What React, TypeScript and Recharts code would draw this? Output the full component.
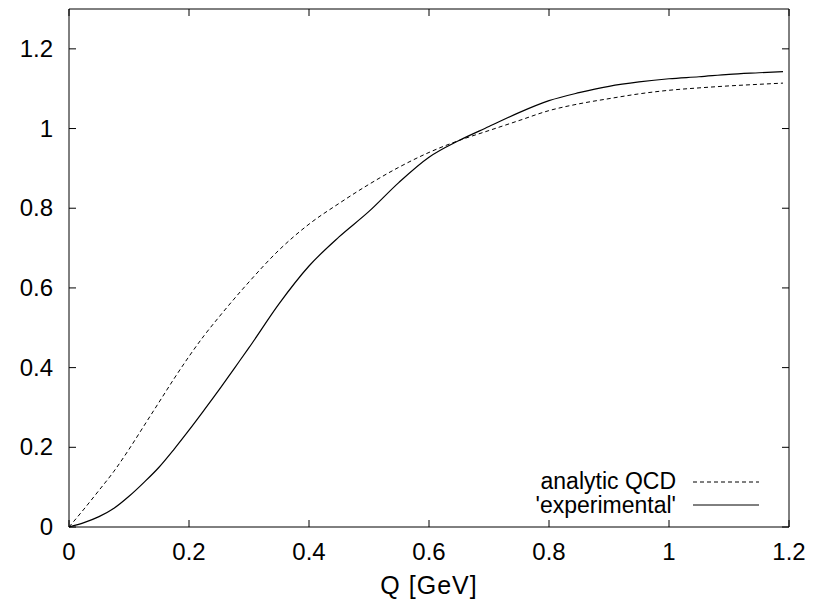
import React from 'react';
import { LineChart, Line, XAxis, YAxis, Legend, ReferenceLine } from 'recharts';

// Q [GeV] sample points
const qValues = [0, 0.025, 0.05, 0.075, 0.1, 0.125, 0.15, 0.175, 0.2, 0.225, 0.25, 0.275, 0.3, 0.35, 0.4, 0.45, 0.5, 0.55, 0.6, 0.65, 0.7, 0.75, 0.8, 0.85, 0.9, 0.95, 1.0, 1.05, 1.1, 1.15, 1.19];
const analyticQcd = [0, 0.045, 0.092, 0.14, 0.195, 0.254, 0.313, 0.372, 0.428, 0.48, 0.527, 0.572, 0.615, 0.695, 0.76, 0.812, 0.86, 0.903, 0.94, 0.97, 0.995, 1.02, 1.045, 1.062, 1.075, 1.087, 1.096, 1.102, 1.107, 1.111, 1.114];
const experimental = [0, 0.011, 0.026, 0.047, 0.077, 0.112, 0.15, 0.195, 0.243, 0.293, 0.344, 0.397, 0.45, 0.56, 0.655, 0.728, 0.792, 0.865, 0.928, 0.97, 1.005, 1.04, 1.07, 1.09, 1.106, 1.117, 1.125, 1.13, 1.136, 1.14, 1.143];

const xTicks = [0, 0.2, 0.4, 0.6, 0.8, 1, 1.2];
const yTicks = [0, 0.2, 0.4, 0.6, 0.8, 1, 1.2];
const yMax = 1.3;
const topTickLen = 0.0176; // ~7px in y units

const data = qValues.map((q, i) => ({ q, qcd: analyticQcd[i], exp: experimental[i] }));

const FONT = '"Liberation Sans", Arial, Helvetica, sans-serif';

const BottomTick = ({ x, y, payload }: any) => (
  <g>
    <line x1={x} y1={y} x2={x} y2={y - 7} stroke="#000" />
    <text x={x} y={y + 33} textAnchor="middle" fontSize={24} fontFamily={FONT} fill="#000">
      {String(payload.value)}
    </text>
  </g>
);

const LeftTick = ({ x, y, payload }: any) => (
  <g>
    <line x1={x} y1={y} x2={x + 7} y2={y} stroke="#000" />
    <text x={x - 16} y={y + 8} textAnchor="end" fontSize={24} fontFamily={FONT} fill="#000">
      {String(payload.value)}
    </text>
  </g>
);

const RightTick = ({ x, y }: any) => <line x1={x} y1={y} x2={x - 7} y2={y} stroke="#000" />;

const legendOrder = ['qcd', 'exp'];
const legendDash: Record<string, string | undefined> = { qcd: '4 3', exp: undefined };

const LegendBox = ({ payload }: any) => {
  const items = [...(payload || [])].sort(
    (a: any, b: any) => legendOrder.indexOf(a.dataKey) - legendOrder.indexOf(b.dataKey)
  );
  return (
    <svg width={260} height={60}>
      {items.map((item: any, i: number) => (
        <g key={item.dataKey}>
          <text x={156} y={29 + i * 24} textAnchor="end" fontSize={23} fontFamily={FONT} fill="#000">
            {item.value}
          </text>
          <line x1={173} x2={239} y1={22 + i * 23} y2={22 + i * 23} stroke="#000" strokeWidth={1}
            strokeDasharray={legendDash[item.dataKey]} />
        </g>
      ))}
    </svg>
  );
};

export default function App() {
  return (
    <div style={{ position: 'absolute', left: 0, top: 0, background: '#fff' }}>
      <LineChart width={820} height={603} data={data} margin={{ top: 9, right: 30, left: 0, bottom: 0 }}>
        <XAxis dataKey="q" type="number" domain={[0, 1.2]} ticks={xTicks} interval={0} height={76}
          tickSize={0} tickMargin={0} tickLine={false} axisLine={{ stroke: '#000' }} tick={<BottomTick />}
          label={{ value: 'Q [GeV]', position: 'insideBottom', offset: 9, fontSize: 25, fontFamily: FONT, fill: '#000', letterSpacing: 1 }} />
        <YAxis type="number" domain={[0, yMax]} ticks={yTicks} interval={0} width={69}
          tickSize={0} tickMargin={0} tickLine={false} axisLine={{ stroke: '#000' }} tick={<LeftTick />} />
        <YAxis yAxisId="right" type="number" orientation="right" domain={[0, yMax]} allowDataOverflow ticks={yTicks} interval={0} width={1}
          tickSize={0} tickMargin={0} tickLine={false} axisLine={{ stroke: '#000' }} tick={<RightTick />} />
        <ReferenceLine y={yMax} stroke="#000" />
        {xTicks.map((t) => (
          <ReferenceLine key={t} segment={[{ x: t, y: yMax }, { x: t, y: yMax - topTickLen }]} stroke="#000" />
        ))}
        <Legend layout="vertical" align="center" verticalAlign="middle" content={<LegendBox />}
          wrapperStyle={{ position: 'absolute', left: 520, top: 460, width: 260, height: 60 }} />
        <Line dataKey="qcd" name="analytic QCD" type="monotone" stroke="#000" strokeWidth={1} strokeDasharray="4 3" dot={false} isAnimationActive={false} />
        <Line dataKey="exp" name="'experimental'" type="monotone" stroke="#000" strokeWidth={1.2} dot={false} isAnimationActive={false} />
      </LineChart>
    </div>
  );
}
